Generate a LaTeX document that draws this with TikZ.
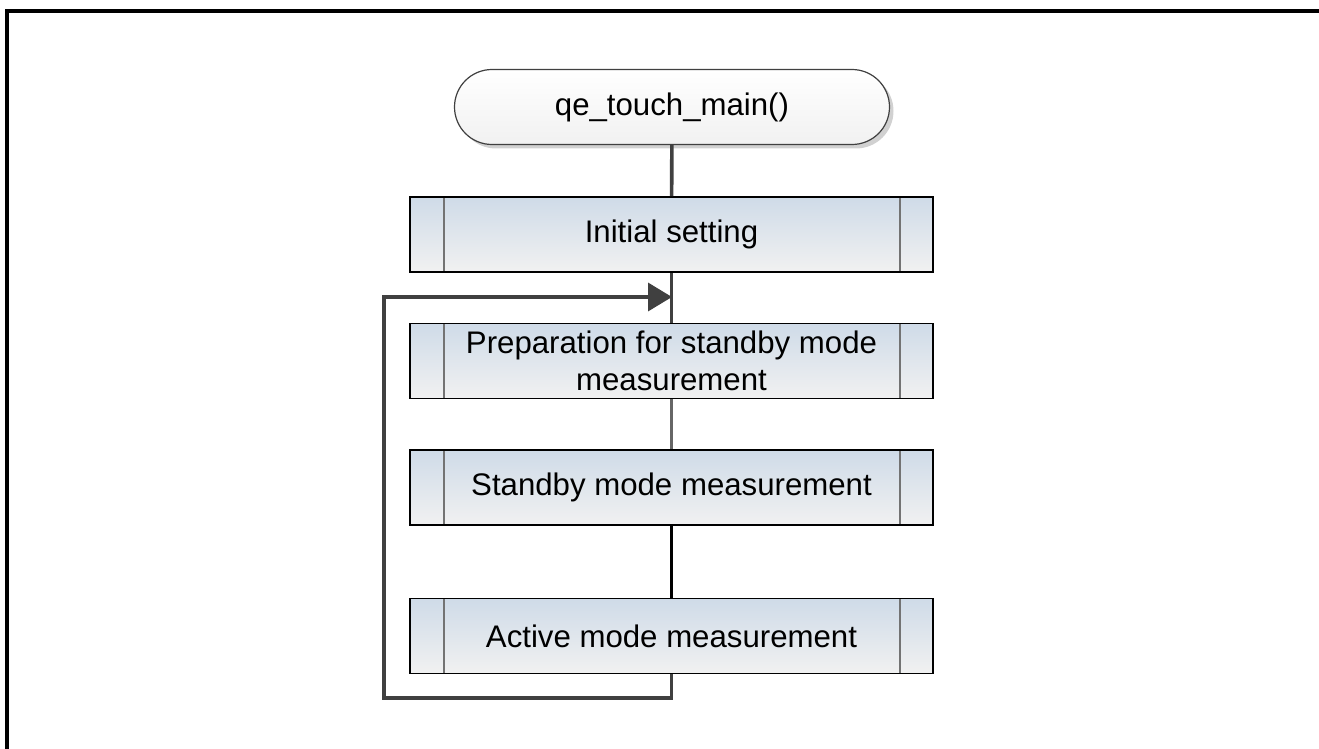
\documentclass[tikz,border=0pt]{standalone}
\usepackage{fontspec}
\setmainfont{Liberation Sans}
\usepackage{xcolor}
\usepackage{tikz}
\usetikzlibrary{arrows.meta}
\usetikzlibrary{shadows}
\definecolor{boxtop}{HTML}{CFDBE8}
\definecolor{boxbottom}{HTML}{F1F1F1}
\definecolor{flowline}{HTML}{404040}
\tikzset{
  terminal/.style={
    draw=flowline, line width=0.6pt,
    rounded corners=18.75pt,
    top color=white, bottom color=boxbottom,
    drop shadow={shadow xshift=2pt, shadow yshift=-2pt, fill=black!18, opacity=1},
    minimum width=217.5pt, minimum height=37.5pt,
    font=\fontsize{15.6}{18.5}\selectfont,
  },
  sub process/.style={
    draw=black, line width=0.8pt,
    top color=boxtop, bottom color=boxbottom,
    minimum width=261.5pt, minimum height=37.5pt,
    align=center, inner sep=1pt,
    font=\fontsize{15.6}{18.5}\selectfont,
    path picture={
      \draw[black!55, line width=1pt]
        ([xshift=17pt]path picture bounding box.north west) --
        ([xshift=17pt]path picture bounding box.south west)
        ([xshift=-16.5pt]path picture bounding box.north east) --
        ([xshift=-16.5pt]path picture bounding box.south east);
    },
  },
  flow edge/.style={draw=flowline, line width=1.8pt},
}

\begin{document}
\begin{tikzpicture}[x=0.5pt, y=-0.5pt]

  \useasboundingbox (0,0) rectangle (1319,749);

  % Frame
  \coordinate (frame_bl) at (7,760);
  \coordinate (frame_tl) at (7,11);
  \coordinate (frame_tr) at (1330,11);
  \draw[line width=1.6pt] (frame_bl) -- (frame_tl) -- (frame_tr);

  % Define nodes
  \node[terminal] (start) at (672,107) {qe\_touch\_main()};
  \node[sub process] (init) at (671.5,234.5) {Initial setting};
  \node[sub process] (prep) at (671.5,361) {Preparation for standby mode\\measurement};
  \node[sub process] (standby) at (671.5,487.5) {Standby mode measurement};
  \node[sub process] (active) at (671.5,636) {Active mode measurement};

  \coordinate (loop_low) at (384,698);
  \coordinate (loop_in) at (672,297);

  % Connect nodes
  \draw[flow edge] (start) -- (init);
  \draw[flow edge] (init) -- (prep);
  \draw[flow edge, line width=1.2pt, draw=black!60] (prep) -- (standby);
  \draw[line width=1.4pt, draw=black] (standby) -- (active);

  % Loop back
  \draw[flow edge, -{Triangle[length=12pt, width=14pt]}]
    (active.south) |- (loop_low) |- (loop_in);

\end{tikzpicture}
\end{document}
